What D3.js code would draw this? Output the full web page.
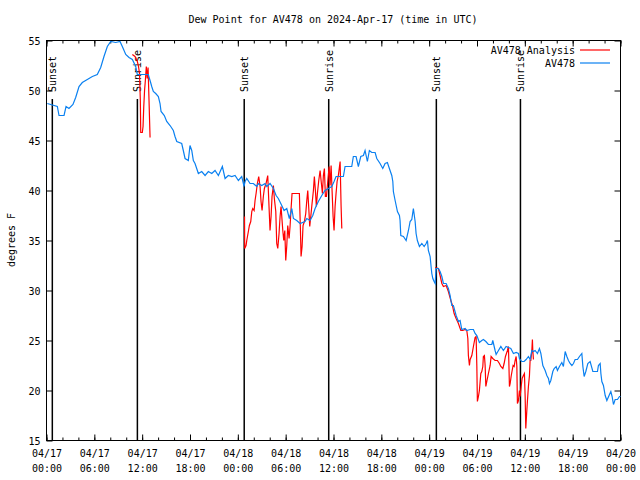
<!DOCTYPE html>
<html><head><meta charset="utf-8">
<script src="https://cdn.jsdelivr.net/npm/d3@7"></script>
<style>body{margin:0;background:#fff}svg{display:block}text{font-family:"DejaVu Sans Mono",monospace;font-size:10px;fill:#000}</style>
</head><body><div id="chart"></div>
<script>
const title = "Dew Point for AV478 on 2024-Apr-17 (time in UTC)";
const yLabel = "degrees F";
const seriesNames = ["AV478 Analysis", "AV478"];
const seriesColors = ["#ff0000", "#0a80f0"];
const startUTC = Date.UTC(2024, 3, 17, 0, 0);
const xDomainHours = [0, 72];
const yDomain = [15, 55];
const yTicks = [15, 20, 25, 30, 35, 40, 45, 50, 55];
const xMajorHours = [0, 6, 12, 18, 24, 30, 36, 42, 48, 54, 60, 66, 72];
const xMinorHours = d3.range(0, 73, 2);
const sunEventHours = [0.73, 11.4, 24.8, 35.4, 48.9, 59.45];
const sunEventLabels = ["Sunset", "Sunrise", "Sunset", "Sunrise", "Sunset", "Sunrise"];

// AV478 observations (hours since 04/17 00:00 UTC, degrees F)
const obsHours = [0.10,1.36,1.57,2.20,2.45,2.82,3.32,3.66,4.08,4.49,5.12,5.75,6.37,6.80,7.21,7.63,8.06,8.68,9.22,9.51,9.94,10.35,10.77,11.19,11.39,12.77,12.99,13.20,13.40,13.70,14.03,14.24,14.37,14.78,15.08,15.50,15.91,16.12,16.34,16.96,17.16,17.38,17.79,18.00,18.22,18.42,18.63,19.05,19.47,19.89,20.30,20.73,21.14,21.56,22.06,22.40,22.81,23.24,23.65,24.07,24.49,24.78,24.91,25.12,25.53,25.95,26.37,26.57,27.00,27.41,27.63,28.04,28.46,28.80,29.08,29.51,29.80,30.14,30.46,30.77,30.97,31.39,31.81,32.43,32.65,33.06,33.40,33.69,34.10,34.53,34.94,35.36,35.78,36.07,36.32,37.24,37.45,38.29,38.49,38.83,39.12,39.42,39.75,39.96,40.09,40.25,40.50,40.80,41.22,41.43,41.84,42.18,42.47,42.76,43.01,43.31,43.44,43.51,43.73,44.02,44.27,44.35,44.44,44.77,45.11,45.40,45.61,45.82,46.02,46.24,46.36,46.52,46.78,47.08,47.37,47.62,47.78,47.90,48.12,48.24,48.33,48.46,48.62,48.75,48.87,49.16,49.37,49.59,49.79,50.13,50.41,50.63,50.84,51.04,51.38,51.67,51.88,52.09,52.51,52.72,53.14,53.55,53.76,53.98,54.30,54.60,54.80,55.11,55.43,55.86,55.98,56.27,56.40,56.69,56.99,57.31,57.65,57.94,58.24,58.57,58.91,59.20,59.32,59.62,59.91,60.16,60.45,60.66,60.88,61.08,61.29,61.58,61.83,62.01,62.26,62.55,62.76,62.96,63.09,63.26,63.51,63.68,63.93,64.09,64.34,64.64,64.84,65.06,65.27,65.47,65.68,65.90,66.10,66.31,66.60,66.85,67.15,67.28,67.44,67.65,67.90,68.19,68.53,69.11,69.23,69.45,69.54,69.66,69.86,70.08,70.29,70.62,70.79,70.95,71.12,71.33,71.62,71.87,72.0];
const obsValues = [48.7,48.4,47.5,47.5,48.4,48.2,48.6,49.3,50.4,50.8,51.1,51.4,51.6,52.3,53.4,54.4,54.9,54.8,54.9,54.4,53.6,53.3,53.1,52.4,51.6,51.6,51.0,50.4,49.9,49.7,49.4,48.7,47.9,47.5,46.9,46.5,46.0,45.4,44.9,44.7,44.0,43.2,43.0,44.5,44.0,43.0,42.7,41.7,41.9,41.5,41.9,41.7,42.0,41.5,42.4,41.2,41.5,41.4,41.5,41.0,41.4,40.4,40.9,41.2,40.7,40.7,40.4,40.7,40.5,40.7,40.4,40.7,40.2,39.5,39.2,38.5,38.0,38.2,37.2,38.2,37.2,37.0,36.7,36.9,37.2,37.0,37.5,38.2,38.9,39.5,40.0,40.2,40.4,40.9,41.4,41.4,42.4,42.4,43.4,43.4,42.4,43.4,43.5,44.0,43.5,42.9,44.0,43.8,43.8,43.2,42.7,42.2,42.7,42.8,42.2,41.5,40.9,39.9,39.0,37.9,37.5,37.0,35.5,35.4,35.0,36.0,36.9,37.1,38.2,36.9,35.7,35.0,34.4,34.7,34.4,34.7,35.0,34.0,33.4,32.4,31.7,31.2,30.9,30.7,32.2,32.2,31.9,31.4,30.7,30.7,30.2,29.5,28.5,28.5,27.5,26.9,27.0,26.1,26.2,26.0,26.1,26.1,25.7,25.5,24.8,25.0,25.1,24.9,24.6,24.6,25.0,24.0,23.6,24.0,24.4,24.0,24.4,24.3,24.2,23.7,23.8,23.7,23.2,22.9,22.9,23.1,23.4,23.1,24.0,23.9,24.0,23.7,24.2,23.7,22.5,22.0,21.5,21.2,20.7,21.0,21.9,22.2,22.4,22.0,22.4,22.8,22.4,23.9,23.4,23.0,22.7,22.5,22.7,23.1,23.1,23.4,23.7,22.4,21.4,21.9,22.7,22.9,21.9,21.9,22.5,22.7,21.7,20.9,20.5,19.5,19.0,19.6,19.9,19.4,18.6,19.1,19.1,19.4,19.4];

// AV478 Analysis (three runs, separated by null)
const anaHours = [10.77,11.10,11.36,11.52,11.67,11.77,11.82,12.02,12.11,12.20,12.30,12.40,12.52,12.63,12.74,12.86,12.99,null,
24.84,24.86,25.03,25.12,25.32,25.45,25.62,25.75,25.87,26.04,26.16,26.29,26.45,26.62,26.79,26.91,27.04,27.20,27.33,27.54,27.75,27.88,28.04,28.17,28.29,28.46,28.58,28.76,28.88,29.01,29.17,29.30,29.42,29.64,29.76,29.89,30.01,30.14,30.26,30.43,30.55,30.68,30.80,31.72,31.84,31.93,32.06,32.18,32.35,32.52,32.65,32.77,32.90,33.02,33.15,33.31,33.48,33.60,33.73,33.85,33.98,34.15,34.32,34.48,34.61,34.73,34.86,34.98,35.11,35.28,35.45,35.57,35.70,35.82,35.95,36.07,36.20,36.32,36.45,36.61,36.83,36.95,37.04,null,
48.75,49.16,49.37,49.59,49.79,50.13,50.41,50.72,50.92,51.13,51.38,51.67,51.97,52.22,52.51,52.72,52.85,52.92,53.05,53.14,53.35,53.55,53.76,53.89,53.98,54.05,54.18,54.30,54.48,54.60,54.73,54.80,54.93,55.02,55.11,55.23,55.43,55.65,55.77,55.98,56.27,56.56,56.81,56.99,57.24,57.40,57.57,57.82,57.94,57.99,58.07,58.16,58.28,58.41,58.53,58.66,58.78,58.91,59.00,59.07,59.20,59.32,59.41,59.54,59.66,59.82,59.95,60.04,60.12,60.25,60.33,60.45,60.58,60.66,60.75,60.88,60.95,61.00,61.08];
const anaValues = [53.6,53.4,53.0,52.5,51.7,49.0,45.8,45.8,46.4,48.4,50.0,51.0,52.4,51.2,52.3,49.0,45.3,null,
37.4,34.2,34.5,35.0,35.9,36.5,36.9,37.9,38.2,38.0,39.0,39.7,40.7,41.4,40.4,38.9,38.0,39.4,40.2,40.7,41.5,39.0,36.0,37.4,39.4,40.5,39.2,37.9,34.7,34.2,35.7,37.4,38.4,36.0,35.0,36.0,33.0,34.5,36.5,35.2,36.4,38.2,39.7,39.7,36.4,33.4,34.4,36.5,36.9,37.7,39.0,40.0,38.2,36.4,37.4,38.7,40.0,41.4,40.0,38.4,39.7,41.0,42.0,40.7,39.7,41.5,42.2,39.4,39.4,40.9,42.4,40.5,42.5,40.0,37.4,36.0,38.4,39.7,40.9,41.5,42.9,38.5,36.2,null,
32.3,32.2,31.5,30.7,30.4,30.5,29.9,29.0,28.5,27.7,27.2,26.7,26.0,26.0,26.1,26.0,25.2,23.5,22.5,23.1,23.5,24.4,25.3,25.4,22.4,18.9,19.4,20.0,21.7,21.9,22.4,23.4,23.5,22.5,20.4,20.9,21.7,22.5,23.4,23.2,23.0,23.0,22.7,22.4,22.2,22.7,23.4,24.0,24.4,23.0,20.4,20.7,21.4,22.0,22.5,22.4,23.0,23.4,22.4,18.7,19.0,20.0,19.4,20.4,21.2,21.5,21.7,19.4,16.2,18.0,19.0,20.4,21.5,23.0,23.0,24.0,25.1,24.0,23.1];

const W = 640, H = 480;
const pLeft = 46.5, pRight = 620.5, pTop = 40.5, pBottom = 440.5;
const toDate = h => new Date(startUTC + h * 3600e3);

const svg = d3.select("#chart").append("svg").attr("width", W).attr("height", H);
const x = d3.scaleUtc().domain(xDomainHours.map(toDate)).range([pLeft, pRight]);
const y = d3.scaleLinear().domain(yDomain).range([pBottom, pTop]);

// title & y label
svg.append("text").attr("x", 333).attr("y", 23).attr("text-anchor", "middle").text(title);
svg.append("text").attr("transform", "translate(15,240) rotate(-90)").attr("text-anchor", "middle").text(yLabel);

// axes (inward ticks, mirrored)
const fmtD = d3.utcFormat("%m/%d"), fmtT = d3.utcFormat("%H:%M");
const gx = svg.append("g").attr("transform", `translate(0,${pBottom})`)
  .call(d3.axisBottom(x).tickValues(xMajorHours.map(toDate)).tickSize(-6).tickPadding(6).tickFormat(""));
gx.select(".domain").remove();
gx.selectAll(".tick text").remove();
gx.selectAll(".tick").append("text").attr("text-anchor", "middle").attr("y", 16)
  .each(function(d){ const t=d3.select(this);
    t.append("tspan").attr("x",0).text(fmtD(d));
    t.append("tspan").attr("x",0).attr("dy",15).text(fmtT(d)); });
const gxm = svg.append("g").attr("transform", `translate(0,${pBottom})`)
  .call(d3.axisBottom(x).tickValues(xMinorHours.map(toDate)).tickSize(-3).tickFormat(""));
gxm.select(".domain").remove();
const gxt = svg.append("g").attr("transform", `translate(0,${pTop})`)
  .call(d3.axisTop(x).tickValues(xMajorHours.map(toDate)).tickSize(-6).tickFormat(""));
gxt.select(".domain").remove();
const gxtm = svg.append("g").attr("transform", `translate(0,${pTop})`)
  .call(d3.axisTop(x).tickValues(xMinorHours.map(toDate)).tickSize(-3).tickFormat(""));
gxtm.select(".domain").remove();

const gy = svg.append("g").attr("transform", `translate(${pLeft},0)`)
  .call(d3.axisLeft(y).tickValues(yTicks).tickSize(-6).tickPadding(6).tickFormat(d3.format("d")));
gy.select(".domain").remove();
gy.selectAll(".tick text").attr("dy", "0.35em");
const gyr = svg.append("g").attr("transform", `translate(${pRight},0)`)
  .call(d3.axisRight(y).tickValues(yTicks).tickSize(-6).tickFormat(""));
gyr.select(".domain").remove();
svg.selectAll(".tick line").attr("stroke", "#000");
svg.selectAll("g").attr("font-family", null).attr("font-size", null);

// border
svg.append("rect").attr("x", pLeft).attr("y", pTop).attr("width", pRight-pLeft).attr("height", pBottom-pTop)
  .attr("fill", "none").attr("stroke", "#000").attr("stroke-width", 1);

// sun events
const lineTop = 99;
sunEventHours.forEach((h, i) => {
  const xx = x(toDate(h));
  svg.append("line").attr("x1", xx).attr("x2", xx).attr("y1", lineTop).attr("y2", pBottom)
    .attr("stroke", "#000").attr("stroke-width", 1.5);
  svg.append("text").attr("transform", `translate(${xx+4},92) rotate(-90)`).text(sunEventLabels[i]);
});

// series
const obs = obsHours.map((h,i)=>({t:toDate(h), v:obsValues[i]}));
const ana = anaHours.map((h,i)=>({t:h==null?null:toDate(h), v:anaValues[i]}));
const line = d3.line().defined(d=>d.t!=null && d.v!=null).x(d=>x(d.t)).y(d=>y(d.v));
svg.append("path").datum(ana).attr("d", line).attr("fill","none").attr("stroke", seriesColors[0]).attr("stroke-width", 1.2);
svg.append("path").datum(obs).attr("d", line).attr("fill","none").attr("stroke", seriesColors[1]).attr("stroke-width", 1.2);

// legend
seriesNames.forEach((n, i) => {
  const yy = 50 + i*13;
  svg.append("text").attr("x", 575).attr("y", yy).attr("dy","0.35em").attr("text-anchor","end").text(n);
  svg.append("line").attr("x1", 580).attr("x2", 610).attr("y1", yy).attr("y2", yy)
    .attr("stroke", seriesColors[i]).attr("stroke-width", 1.2);
});
</script></body></html>
